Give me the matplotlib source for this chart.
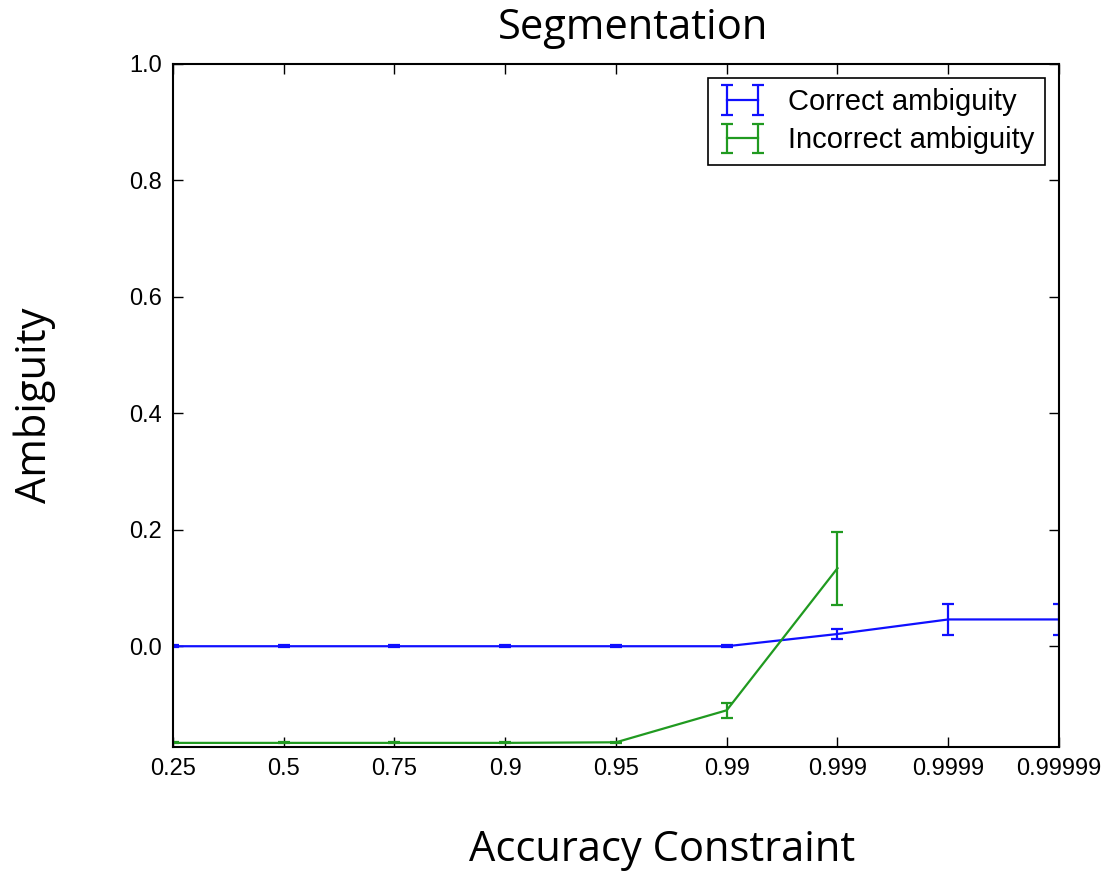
# Segmentation: ambiguity vs accuracy constraint
import numpy as np
import matplotlib
matplotlib.use("Agg")
import matplotlib.pyplot as plt

# data
constraints = ['0.25', '0.5', '0.75', '0.9', '0.95', '0.99', '0.999', '0.9999', '0.99999']
correct = [0.0, 0.0, 0.0, 0.0, 0.0, 0.0, 0.021, 0.046, 0.046]
correct_err = [0.002, 0.002, 0.002, 0.002, 0.002, 0.002, 0.009, 0.026, 0.026]
incorrect = [-0.166, -0.166, -0.166, -0.166, -0.165, -0.110, 0.134]
incorrect_err = [0.001, 0.001, 0.001, 0.001, 0.001, 0.0125, 0.063]

blue = '#1010ff'
green = '#209a20'

plt.rcParams['font.family'] = ['Liberation Sans', 'DejaVu Sans']
plt.rcParams['xtick.direction'] = 'in'
plt.rcParams['ytick.direction'] = 'in'

fig = plt.figure(figsize=(11.06, 8.76), dpi=100)
ax = fig.add_axes([0.1564, 0.1473, 0.8011, 0.7797])

x = np.arange(len(constraints))
ax.errorbar(x, correct, yerr=correct_err, color=blue, lw=1.6, capsize=4.5,
            elinewidth=1.6, capthick=1.6, label='Correct ambiguity')
ax.errorbar(x[:len(incorrect)], incorrect, yerr=incorrect_err, color=green, lw=1.6,
            capsize=4.5, elinewidth=1.6, capthick=1.6, label='Incorrect ambiguity')

ax.set_xlim(0, len(constraints) - 1)
ax.set_ylim(-0.173, 1.0)
ax.set_xticks(x)
ax.set_xticklabels(constraints)
ax.set_yticks([0.0, 0.2, 0.4, 0.6, 0.8, 1.0])
ax.set_yticklabels(['0.0', '0.2', '0.4', '0.6', '0.8', '1.0'])
ax.tick_params(labelsize=17, length=7, width=1, top=True, right=True, pad=8)
for s in ax.spines.values():
    s.set_linewidth(1.5)

leg = ax.legend(loc='upper right', fontsize=21, numpoints=2, handlelength=1.65,
                handletextpad=0.75, fancybox=False, framealpha=1, edgecolor='black',
                borderaxespad=0.48, borderpad=0.35, labelspacing=0.35)
leg.get_frame().set_linewidth(1.2)

big = dict(family=['Open Sans', 'DejaVu Sans'], fontsize=30, ha='center', va='center')
fig.text(633 / 1106, 1 - 28 / 876, 'Segmentation', **big)
fig.text(662 / 1106, 1 - 850 / 876, 'Accuracy Constraint', **big)
fig.text(35 / 1106, 1 - 405 / 876, 'Ambiguity', rotation=90, **big)

fig.savefig('out.png', dpi=100, facecolor='white')
